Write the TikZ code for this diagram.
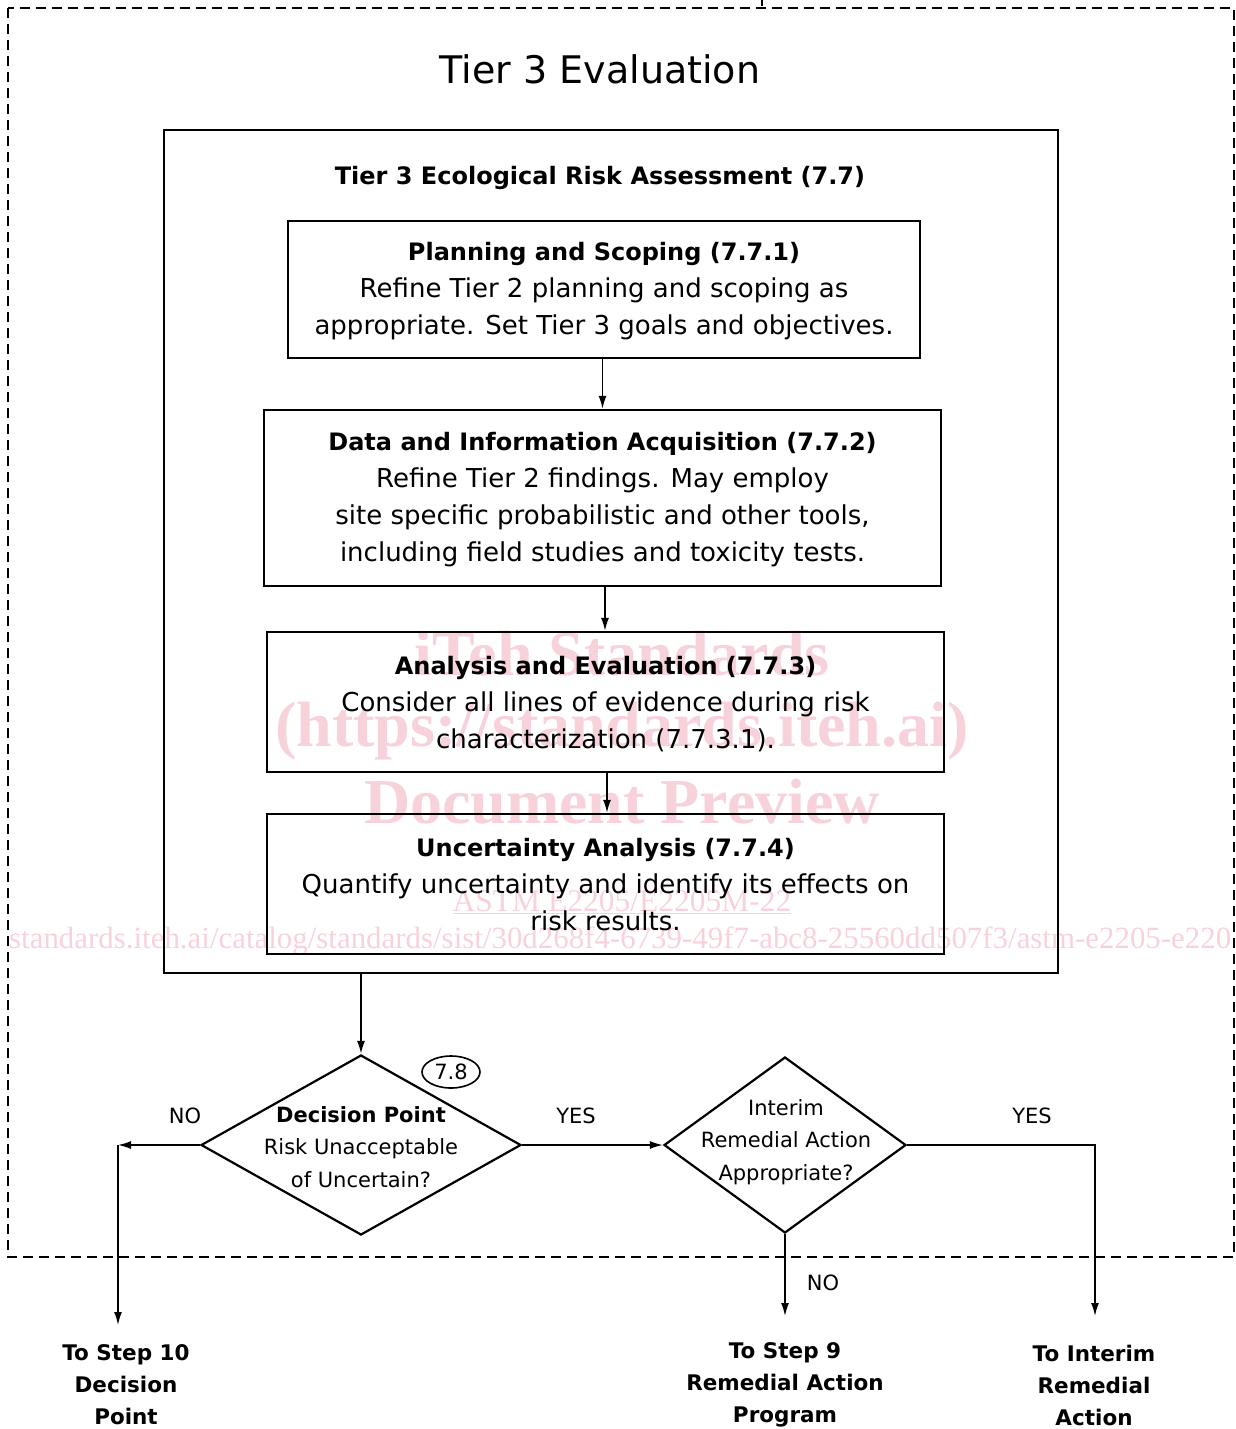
\documentclass[tikz,border=0pt]{standalone}
\usepackage{fontspec}
\setmainfont{DejaVu Sans}
\newfontfamily\wmfont{Liberation Serif}
\usetikzlibrary{shapes.geometric,arrows.meta}
\definecolor{wmpink}{RGB}{248,210,218}
\tikzset{
  box/.style={draw,line width=2.3pt,rectangle,inner sep=0pt,align=center},
  con/.style={line width=1.6pt,-{Latex[length=13pt,width=8pt]}},
  dia/.style={draw,line width=2.2pt,diamond,inner sep=0pt},
  bodytxt/.style={font=\fontsize{26}{37}\selectfont,align=center},
  smalltxt/.style={font=\fontsize{21}{32.5}\selectfont,align=center},
  targettxt/.style={font=\bfseries\fontsize{21.5}{32}\selectfont,align=center},
  wm/.style={text=wmpink,font=\wmfont\bfseries\fontsize{64}{68}\selectfont,anchor=center}
}
\newcommand{\boxhead}[1]{\textbf{\fontsize{24}{37}\selectfont #1}}
\begin{document}
\begin{tikzpicture}[x=1pt,y=-1pt]
\useasboundingbox (0,0) rectangle (1235,1429);
% watermark
\node[wm] (w1) at (622,654) {iTeh Standards};
\node[wm] (w2) at (622,731) {(https://standards.iteh.ai)};
\node[wm] (w3) at (622,802) {Document Preview};
\node[wm,font=\wmfont\fontsize{31.5}{34}\selectfont] (w4) at (622,902) {\underline{ASTM E2205/E2205M-22}};
\node[wm,font=\wmfont\fontsize{30.9}{34}\selectfont,anchor=west,inner sep=0pt] (w5) at (9,941) {standards.iteh.ai/catalog/standards/sist/30d268f4-6739-49f7-abc8-25560dd507f3/astm-e2205-e220};
% frame
\draw[line width=2pt,dash pattern=on 10pt off 6pt] (8,8) rectangle (1234,1257);
\coordinate (topin) at (762,0);
\coordinate (topend) at (762,6);
\draw[line width=1.2pt] (topin) -- (topend);
\node[font=\fontsize{38}{44}\selectfont] (title) at (600,69) {Tier 3 Evaluation};
% outer box
\node[box,minimum width=894pt,minimum height=843pt] (outer) at (611,551.5) {};
\node[font=\bfseries\fontsize{24}{30}\selectfont] (hdr) at (600,178) {Tier 3 Ecological Risk Assessment (7.7)};
% inner boxes
\node[box,minimum width=632pt,minimum height=137pt] (b1) at (604,289.5) {};
\node[bodytxt] (t1) at (604,291) {\boxhead{Planning and Scoping (7.7.1)}\\Refine Tier 2 planning and scoping as\\appropriate. Set Tier 3 goals and objectives.};
\node[box,minimum width=677pt,minimum height=176pt] (b2) at (602.5,498) {};
\node[bodytxt] (t2) at (602.5,500) {\boxhead{Data and Information Acquisition (7.7.2)}\\Refine Tier 2 findings. May employ\\site specific probabilistic and other tools,\\including field studies and toxicity tests.};
\node[box,minimum width=677pt,minimum height=140pt] (b3) at (605.5,702) {};
\node[bodytxt] (t3) at (605.5,704) {\boxhead{Analysis and Evaluation (7.7.3)}\\Consider all lines of evidence during risk\\characterization (7.7.3.1).};
\node[box,minimum width=677pt,minimum height=140pt] (b4) at (605.5,884) {};
\node[bodytxt] (t4) at (605.5,884.5) {\boxhead{Uncertainty Analysis (7.7.4)}\\Quantify uncertainty and identify its effects on\\risk results.};
\draw[con] ([xshift=-1.5pt]b1.south) -- ([xshift=-1.5pt]b1.south |- b2.north);
\draw[con] ([xshift=2.5pt]b2.south) -- ([xshift=2.5pt]b2.south |- b3.north);
\draw[con] ([xshift=1.5pt]b3.south) -- ([xshift=1.5pt]b3.south |- b4.north);
% diamonds
\node[dia,minimum width=320pt,minimum height=180pt] (d1) at (361,1145) {};
\node[smalltxt] (d1t) at (361,1147) {\textbf{Decision Point}\\Risk Unacceptable\\of Uncertain?};
\node[draw,line width=1.6pt,ellipse,minimum width=58pt,minimum height=32pt,inner sep=0pt,font=\fontsize{21}{24}\selectfont] (ref) at (451,1072) {7.8};
\node[dia,minimum width=242pt,minimum height=176pt] (d2) at (785,1145) {};
\node[smalltxt] (d2t) at (786,1142) {Interim\\Remedial Action\\Appropriate?};
\draw[con] (outer.south -| d1.north) -- (d1.north);
\draw[con] (d1.east) -- (d2.west);
% NO branch left
\coordinate (nl) at (118,1145);
\coordinate (e1) at (118,1325);
\draw[con] (d1.west) -- (nl);
\draw[con] (nl) -- (e1);
% d2 NO
\coordinate (e2) at (785,1316);
\draw[con] (d2.south) -- (e2);
% d2 YES
\coordinate (yr) at (1095,1145);
\coordinate (e3) at (1095,1316);
\draw[con] (d2.east) -- (yr) -- (e3);
% labels
\node[smalltxt] (lno1) at (185,1116) {NO};
\node[smalltxt] (lyes1) at (576,1116) {YES};
\node[smalltxt] (lyes2) at (1032,1116) {YES};
\node[smalltxt] (lno2) at (823,1283) {NO};
% targets
\node[targettxt] (s10) at (126,1385) {To Step 10\\Decision\\Point};
\node[targettxt] (s9) at (785,1385) {To Step 9\\Remedial Action\\Program};
\node[targettxt] (sia) at (1094,1385) {To Interim\\Remedial\\Action};
\end{tikzpicture}
\end{document}
